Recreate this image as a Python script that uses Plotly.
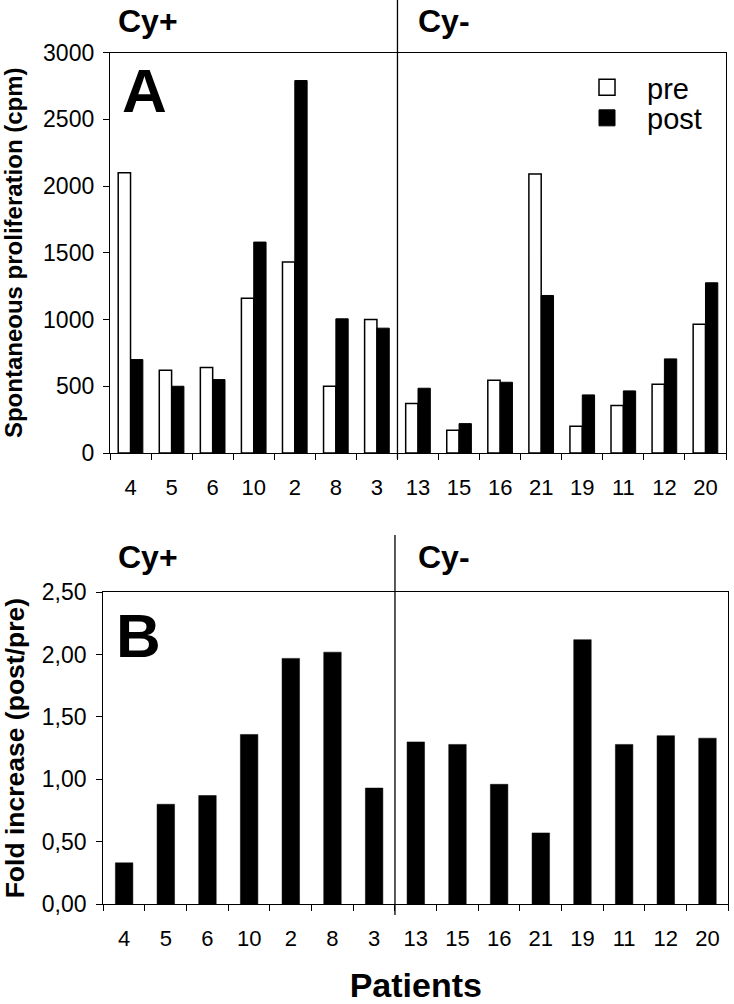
import plotly.graph_objects as go

# ---------------- data ----------------
patients = ["4", "5", "6", "10", "2", "8", "3", "13", "15", "16", "21", "19", "11", "12", "20"]
pre_cpm = [2100, 620, 640, 1160, 1430, 500, 1000, 370, 170, 545, 2090, 200, 355, 515, 965]
post_cpm = [700, 500, 550, 1580, 2790, 1005, 935, 485, 220, 530, 1180, 435, 465, 705, 1275]
fold_increase = [0.33, 0.80, 0.87, 1.36, 1.97, 2.02, 0.93, 1.30, 1.28, 0.96, 0.57, 2.12, 1.28, 1.35, 1.33]

a_ticks = [0, 500, 1000, 1500, 2000, 2500, 3000]
b_ticks = [0, 0.5, 1.0, 1.5, 2.0, 2.5]
b_ticklabels = ["0,00", "0,50", "1,00", "1,50", "2,00", "2,50"]
group_labels = ["Cy+", "Cy-"]

# ---------------- layout helpers ----------------
W, H = 734, 1004
def fx(p):                   # screen pixel -> paper fraction
    return p / W
def fy(p):
    return 1 - p / H

FONT = "Liberation Sans, Arial, Helvetica, sans-serif"

fig = go.Figure()

fig.add_trace(go.Bar(x=patients, y=pre_cpm, name="pre", xaxis="x", yaxis="y",
                     marker=dict(color="white", line=dict(color="black", width=1.5)),
                     showlegend=False))
fig.add_trace(go.Bar(x=patients, y=post_cpm, name="post", xaxis="x", yaxis="y",
                     marker=dict(color="black", line=dict(color="black", width=1)),
                     showlegend=False))
fig.add_trace(go.Bar(x=patients, y=fold_increase, name="fold", xaxis="x2", yaxis="y2",
                     width=0.42,
                     marker=dict(color="black", line=dict(color="black", width=0.5)),
                     showlegend=False))

# legend proxies
fig.add_trace(go.Scatter(x=[None], y=[None], mode="markers", name="pre", legend="legend",
                         xaxis="x", yaxis="y",
                         marker=dict(symbol="square", size=16, color="white",
                                     line=dict(color="black", width=1.5))))
fig.add_trace(go.Scatter(x=[None], y=[None], mode="markers", name="post", legend="legend2",
                         xaxis="x", yaxis="y",
                         marker=dict(symbol="square", size=16, color="black",
                                     line=dict(color="black", width=1))))

axis_common = dict(showline=True, linecolor="black", linewidth=1.3, mirror=True,
                   ticks="outside", ticklen=6, tickwidth=1.3, tickcolor="black",
                   showgrid=False, zeroline=False, automargin=False)

xcommon = dict(axis_common, type="category", categoryorder="array", categoryarray=patients,
               tickson="boundaries", tickfont=dict(size=22, color="black"),
               ticklabelstandoff=14)

fig.update_layout(
    width=W, height=H,
    margin=dict(l=0, r=0, t=0, b=0),
    paper_bgcolor="white", plot_bgcolor="white",
    font=dict(family=FONT, color="black"),
    barmode="group", bargap=0.4, bargroupgap=0,
    xaxis=dict(xcommon, domain=[fx(110), fx(726)], anchor="y"),
    yaxis=dict(axis_common, domain=[fy(453), fy(52.5)], anchor="x", range=[0, 3000],
               tickvals=a_ticks, tickfont=dict(size=23, color="black"), ticklabelstandoff=4,
               title=dict(text="Spontaneous proliferation (cpm)",
                          font=dict(size=24, weight="bold", color="black"), standoff=16)),
    xaxis2=dict(xcommon, domain=[fx(103.3), fx(728.3)], anchor="y2",
                title=dict(text="Patients", font=dict(size=34, weight="bold", color="black"),
                           standoff=24)),
    yaxis2=dict(axis_common, domain=[fy(904), fy(592.3)], anchor="x2", range=[0, 2.5],
                tickvals=b_ticks, ticktext=b_ticklabels,
                tickfont=dict(size=23, color="black"), ticklabelstandoff=5,
                title=dict(text="Fold increase (post/pre)",
                           font=dict(size=26.5, weight="bold", color="black"), standoff=14)),
    legend=dict(x=fx(567), y=fy(87.5), xanchor="left", yanchor="middle",
                bgcolor="rgba(0,0,0,0)", font=dict(size=29, color="black"),
                itemwidth=70),
    legend2=dict(x=fx(567), y=fy(118), xanchor="left", yanchor="middle",
                 bgcolor="rgba(0,0,0,0)", font=dict(size=29, color="black"),
                 itemwidth=70),
)

# group separators
fig.add_shape(type="line", xref="x", yref="paper", x0=6.5, x1=6.5, y0=1.0, y1=fy(459),
              line=dict(color="black", width=1.3))
fig.add_shape(type="line", xref="x2", yref="paper", x0=6.5, x1=6.5, y0=fy(535), y1=fy(915),
              line=dict(color="black", width=1.3))

# group labels & panel letters
for ypix in (21.5, 557):
    fig.add_annotation(text=group_labels[0], xref="paper", yref="paper", x=fx(116), y=fy(ypix),
                       xanchor="left", yanchor="middle", showarrow=False,
                       font=dict(size=32, weight="bold", color="black"))
    fig.add_annotation(text=group_labels[1], xref="paper", yref="paper", x=fx(416), y=fy(ypix),
                       xanchor="left", yanchor="middle", showarrow=False,
                       font=dict(size=32, weight="bold", color="black"))

fig.add_annotation(text="A", xref="paper", yref="paper", x=fx(120), y=fy(90),
                   xanchor="left", yanchor="middle", showarrow=False,
                   font=dict(size=62, weight="bold", color="black"))
fig.add_annotation(text="B", xref="paper", yref="paper", x=fx(114), y=fy(635),
                   xanchor="left", yanchor="middle", showarrow=False,
                   font=dict(size=62, weight="bold", color="black"))

# remove the browser's default 8px body margin so the figure fills the window exactly
fig.write_html("out.html", config={"displayModeBar": False},
               post_script="document.body.style.margin='0';")
